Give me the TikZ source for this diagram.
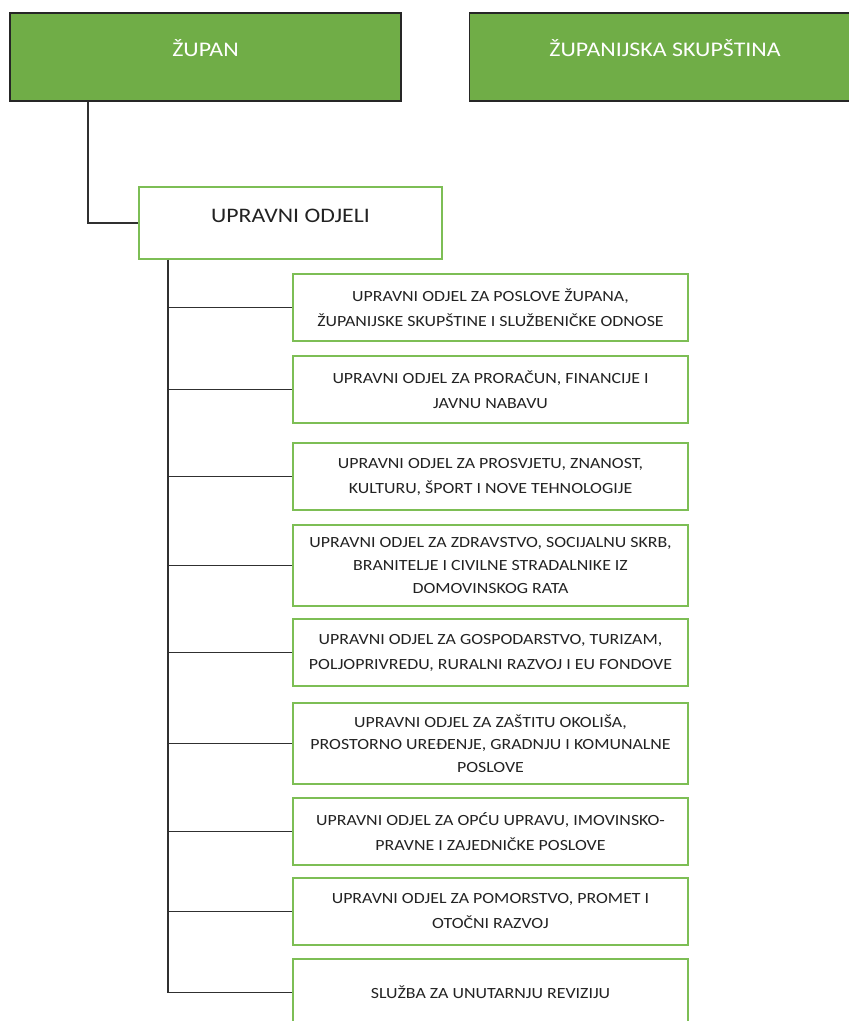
\documentclass[tikz,border=0pt]{standalone}
\usepackage{fontspec}
\setmainfont{Carlito}[FakeStretch=1.15]
\usetikzlibrary{calc}

\definecolor{headgreen}{HTML}{70AD47}
\definecolor{boxgreen}{HTML}{7DBE55}
\definecolor{conngray}{HTML}{303030}
\definecolor{textgray}{HTML}{222222}

\begin{document}
\begin{tikzpicture}[x=0.75pt,y=-0.75pt]

% ---------- frame ----------
\useasboundingbox (0,0) rectangle (849,1021);

% ---------- styles ----------
\tikzset{
  head/.style={draw=black!85,line width=1.1pt,fill=headgreen,text=white,
    minimum width=293.25pt,minimum height=66pt,inner sep=0pt,
    font=\fontsize{15.6}{18}\selectfont,text height=10pt,text depth=10.5pt},
  group/.style={draw=boxgreen,line width=1.1pt,text=textgray,
    minimum width=227.25pt,minimum height=54pt,inner sep=0pt,
    font=\fontsize{15.5}{18}\selectfont,text height=10pt,text depth=10.5pt},
  dept/.style={draw=boxgreen,line width=1.1pt,text=textgray,align=center,
    minimum width=296.25pt,minimum height=50.25pt,inner sep=0pt,
    font=\fontsize{11.65}{18.75}\selectfont},
  tall/.style={minimum height=60.75pt,font=\fontsize{11.65}{16.9}\selectfont},
  conn/.style={draw=conngray,line width=1.4pt}
}

% ---------- top ----------
\node[head] (zupan)     at (205.5,57) {ŽUPAN};
\node[head] (skupstina) at (665,57)   {ŽUPANIJSKA SKUPŠTINA};

% ---------- upravni odjeli ----------
\node[group] (odjeli) at (290.5,223) {UPRAVNI ODJELI};

% ---------- departments ----------
\node[dept] (od1) at (490.5,307.5)
  {UPRAVNI ODJEL ZA POSLOVE ŽUPANA,\\ŽUPANIJSKE SKUPŠTINE I SLUŽBENIČKE ODNOSE};
\node[dept] (od2) at (490.5,389.5)
  {UPRAVNI ODJEL ZA PRORAČUN, FINANCIJE I\\JAVNU NABAVU};
\node[dept] (od3) at (490.5,476.5)
  {UPRAVNI ODJEL ZA PROSVJETU, ZNANOST,\\KULTURU, ŠPORT I NOVE TEHNOLOGIJE};
\node[dept,tall] (od4) at (490.5,565.5)
  {UPRAVNI ODJEL ZA ZDRAVSTVO, SOCIJALNU SKRB,\\BRANITELJE I CIVILNE STRADALNIKE IZ\\DOMOVINSKOG RATA};
\node[dept] (od5) at (490.5,652.5)
  {UPRAVNI ODJEL ZA GOSPODARSTVO, TURIZAM,\\POLJOPRIVREDU, RURALNI RAZVOJ I EU FONDOVE};
\node[dept,tall] (od6) at (490.5,743.5)
  {UPRAVNI ODJEL ZA ZAŠTITU OKOLIŠA,\\PROSTORNO UREĐENJE, GRADNJU I KOMUNALNE\\POSLOVE};
\node[dept] (od7) at (490.5,831.5)
  {UPRAVNI ODJEL ZA OPĆU UPRAVU, IMOVINSKO-\\PRAVNE I ZAJEDNIČKE POSLOVE};
\node[dept] (od8) at (490.5,911.5)
  {UPRAVNI ODJEL ZA POMORSTVO, PROMET I\\OTOČNI RAZVOJ};
\node[dept] (od9) at (490.5,992.5)
  {SLUŽBA ZA UNUTARNJU REVIZIJU};

% ---------- connectors ----------
\draw[conn] (zupan.south west) ++(79,0) |- (odjeli.west);

\coordinate (trunk) at ($(odjeli.south west)+(30,0)$);
\draw[conn] (trunk) -- (trunk |- od9.west);
\foreach \i in {1,...,9}
  \draw[conn] (trunk |- od\i.west) -- (od\i.west);

\end{tikzpicture}
\end{document}
